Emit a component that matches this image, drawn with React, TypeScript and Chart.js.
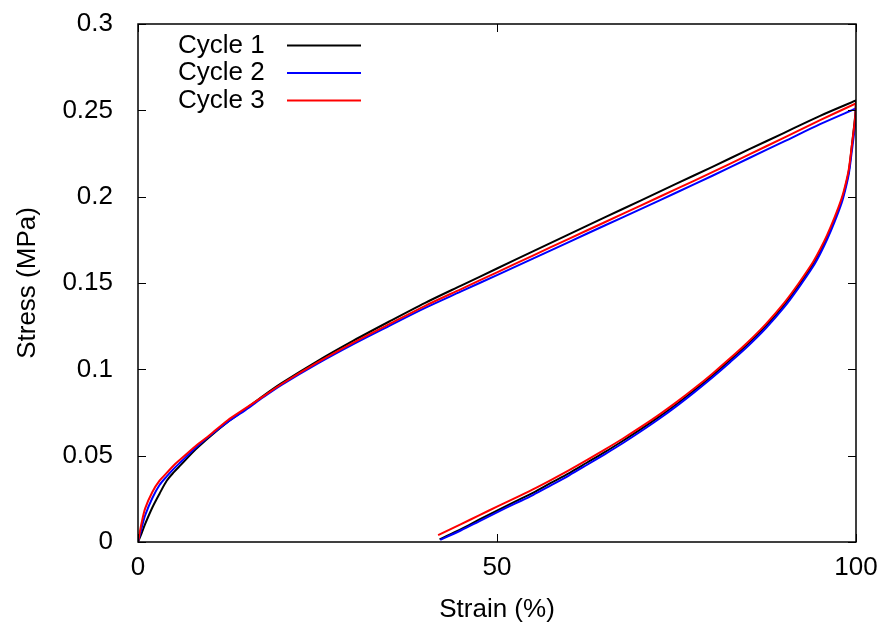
import React, { useEffect, useRef } from 'react';
import { Chart, registerables } from 'chart.js';

Chart.register(...registerables);

// ---- Data ----
const seriesNames = ['Cycle 1', 'Cycle 2', 'Cycle 3'];
const seriesColors = ['#000000', '#0000ff', '#ff0000'];

// Loading branch (strain %, stress MPa)
const loadStrain = [0, 0.5, 1, 2, 3, 4, 5, 6, 8, 10, 12.5, 15, 17.5, 20, 25, 30, 35, 40, 45, 50, 55, 60, 65, 70, 75, 80, 85, 90, 95, 100];
const loadStress1 = [0, 0.005, 0.0105, 0.02, 0.028, 0.0355, 0.0405, 0.0448, 0.0535, 0.061, 0.0695, 0.077, 0.0848, 0.092, 0.1048, 0.1166, 0.1277, 0.1385, 0.1485, 0.1584, 0.1683, 0.1782, 0.188, 0.1977, 0.2075, 0.2173, 0.2272, 0.237, 0.2468, 0.2557];
const loadStress2 = [0, 0.008, 0.0155, 0.0255, 0.033, 0.038, 0.0425, 0.0465, 0.0545, 0.0615, 0.0695, 0.0765, 0.084, 0.091, 0.1033, 0.1146, 0.1252, 0.1356, 0.1451, 0.1546, 0.1641, 0.1737, 0.1833, 0.1928, 0.2024, 0.2121, 0.2221, 0.232, 0.242, 0.2511];
const loadStress3 = [0, 0.011, 0.0195, 0.029, 0.0355, 0.04, 0.0445, 0.0482, 0.0555, 0.062, 0.0705, 0.0775, 0.0845, 0.0915, 0.104, 0.1155, 0.1262, 0.1368, 0.1465, 0.1562, 0.1659, 0.1756, 0.1852, 0.1948, 0.2045, 0.2142, 0.2242, 0.2342, 0.2443, 0.254];

// Unloading branch (strain %, stress MPa)
const unloadStrain1 = [100, 99.9, 99.7, 99.4, 99, 98.5, 98, 97, 96, 95, 94, 92, 90, 87.5, 85, 82.5, 80, 77.5, 75, 72.5, 70, 67.5, 65, 62.5, 60, 57.5, 55, 52.5, 50, 47.5, 45, 42.0];
const unloadStrain2 = [100, 99.9, 99.7, 99.4, 99, 98.5, 98, 97, 96, 95, 94, 92, 90, 87.5, 85, 82.5, 80, 77.5, 75, 72.5, 70, 67.5, 65, 62.5, 60, 57.5, 55, 52.5, 50, 47.5, 45, 42.1];
const unloadStrain3 = [100, 99.9, 99.7, 99.4, 99, 98.5, 98, 97, 96, 95, 94, 92, 90, 87.5, 85, 82.5, 80, 77.5, 75, 72.5, 70, 67.5, 65, 62.5, 60, 57.5, 55, 52.5, 50, 47.5, 45, 41.8];
const unloadStress1 = [0.2557, 0.2475, 0.2395, 0.2285, 0.2148, 0.2053, 0.1978, 0.1866, 0.1768, 0.1683, 0.1608, 0.1485, 0.1372, 0.1253, 0.1149, 0.1055, 0.0963, 0.0879, 0.0798, 0.0723, 0.0652, 0.0585, 0.052, 0.0459, 0.0398, 0.0342, 0.0285, 0.0234, 0.0182, 0.0129, 0.0075, 0.0015];
const unloadStress2 = [0.2511, 0.243, 0.2355, 0.2258, 0.2132, 0.2038, 0.1963, 0.1852, 0.1754, 0.1668, 0.1594, 0.1472, 0.136, 0.1241, 0.1137, 0.1043, 0.0953, 0.0868, 0.0787, 0.0711, 0.064, 0.0572, 0.0508, 0.0446, 0.0385, 0.0328, 0.0272, 0.0222, 0.0172, 0.012, 0.0068, 0.0012];
const unloadStress3 = [0.254, 0.2465, 0.239, 0.229, 0.216, 0.2065, 0.199, 0.1878, 0.178, 0.1695, 0.162, 0.1497, 0.1385, 0.1265, 0.116, 0.1065, 0.0975, 0.089, 0.081, 0.0735, 0.0665, 0.0598, 0.0535, 0.0474, 0.0415, 0.0359, 0.0305, 0.0254, 0.0205, 0.0154, 0.0104, 0.004];

const xTickValues = [0, 50, 100];
const xTickLabels = ['0', '50', '100'];
const yTickValues = [0, 0.05, 0.1, 0.15, 0.2, 0.25, 0.3];
const yTickLabels = ['0', '0.05', '0.1', '0.15', '0.2', '0.25', '0.3'];

const xTitle = 'Strain (%)';
const yTitle = 'Stress (MPa)';

const FONT = "'Liberation Sans', Arial, Helvetica, sans-serif";
const FONT_SIZE = 26;

function buildPoints(ls: number[], ly: number[], us: number[], uy: number[]) {
  const pts: { x: number; y: number }[] = [];
  ls.forEach((x, i) => pts.push({ x, y: ly[i] }));
  us.forEach((x, i) => pts.push({ x, y: uy[i] }));
  return pts;
}

const framePlugin = {
  id: 'gnuFrame',
  afterDraw(chart: any) {
    const { ctx, chartArea: a, scales } = chart;
    ctx.save();
    ctx.strokeStyle = '#000';
    ctx.lineWidth = 1.5;
    ctx.strokeRect(a.left, a.top, a.right - a.left, a.bottom - a.top);
    ctx.lineWidth = 1;
    const tl = 8;
    ctx.beginPath();
    xTickValues.forEach((v) => {
      const px = Math.round(scales.x.getPixelForValue(v)) + 0.5;
      ctx.moveTo(px, a.bottom);
      ctx.lineTo(px, a.bottom - tl);
      ctx.moveTo(px, a.top);
      ctx.lineTo(px, a.top + tl);
    });
    yTickValues.forEach((v) => {
      const py = Math.round(scales.y.getPixelForValue(v)) + 0.5;
      ctx.moveTo(a.left, py);
      ctx.lineTo(a.left + tl, py);
      ctx.moveTo(a.right, py);
      ctx.lineTo(a.right - tl, py);
    });
    ctx.stroke();

    // legend (gnuplot style: label then line sample)
    ctx.font = `${FONT_SIZE}px ${FONT}`;
    ctx.textBaseline = 'middle';
    ctx.textAlign = 'left';
    ctx.fillStyle = '#000';
    seriesNames.forEach((name, i) => {
      const y = a.top + 21.5 + i * 27.5;
      ctx.fillText(name, a.left + 40, y);
      ctx.strokeStyle = seriesColors[i];
      ctx.lineWidth = 2;
      ctx.beginPath();
      ctx.moveTo(a.left + 149, y);
      ctx.lineTo(a.left + 223, y);
      ctx.stroke();
    });
    ctx.restore();
  },
};

export default function App() {
  const canvasRef = useRef<HTMLCanvasElement | null>(null);

  useEffect(() => {
    if (!canvasRef.current) return;
    const datasets = [
      buildPoints(loadStrain, loadStress1, unloadStrain1, unloadStress1),
      buildPoints(loadStrain, loadStress2, unloadStrain2, unloadStress2),
      buildPoints(loadStrain, loadStress3, unloadStrain3, unloadStress3),
    ].map((data, i) => ({
      label: seriesNames[i],
      data,
      borderColor: seriesColors[i],
      backgroundColor: seriesColors[i],
      borderWidth: 2,
      pointRadius: 0,
      showLine: true,
      tension: 0.3,
      fill: false,
      order: 2 - i,
    }));

    const font = { family: FONT, size: FONT_SIZE };
    const chart = new Chart(canvasRef.current, {
      type: 'scatter',
      data: { datasets },
      plugins: [framePlugin],
      options: {
        animation: false,
        responsive: false,
        devicePixelRatio: 1,
        layout: { padding: { top: 24, right: 25, left: 0, bottom: 0 } },
        plugins: { legend: { display: false }, tooltip: { enabled: false } },
        scales: {
          x: {
            type: 'linear',
            min: 0,
            max: 100,
            afterBuildTicks: (s: any) => {
              s.ticks = xTickValues.map((value) => ({ value }));
            },
            afterFit: (s: any) => {
              s.height = 83;
              s.paddingLeft = 0;
              s.paddingRight = 0;
              s.paddingTop = 0;
              s.paddingBottom = 0;
            },
            ticks: {
              callback: (v: any) => xTickLabels[xTickValues.indexOf(v)],
              font,
              color: '#000',
              padding: 2,
              maxRotation: 0,
              autoSkip: false,
            },
            grid: { display: false },
            border: { display: false },
            title: { display: true, text: xTitle, font, color: '#000', padding: { top: 0, bottom: 0 } },
          },
          y: {
            type: 'linear',
            min: 0,
            max: 0.3,
            afterBuildTicks: (s: any) => {
              s.ticks = yTickValues.map((value) => ({ value }));
            },
            afterFit: (s: any) => {
              s.width = 138;
              s.paddingLeft = 0;
              s.paddingRight = 0;
              s.paddingTop = 0;
              s.paddingBottom = 0;
            },
            ticks: {
              callback: (v: any) => yTickLabels[yTickValues.indexOf(v)],
              font,
              color: '#000',
              padding: 17,
              autoSkip: false,
            },
            grid: { display: false },
            border: { display: false },
            title: { display: true, text: yTitle, font, color: '#000', padding: { top: 12, bottom: 0 } },
          },
        },
      },
    } as any);
    return () => chart.destroy();
  }, []);

  return (
    <div style={{ position: 'absolute', left: 0, top: 0, width: 881, height: 625, background: '#fff' }}>
      <canvas ref={canvasRef} width={881} height={625} style={{ width: 881, height: 625 }} />
    </div>
  );
}
